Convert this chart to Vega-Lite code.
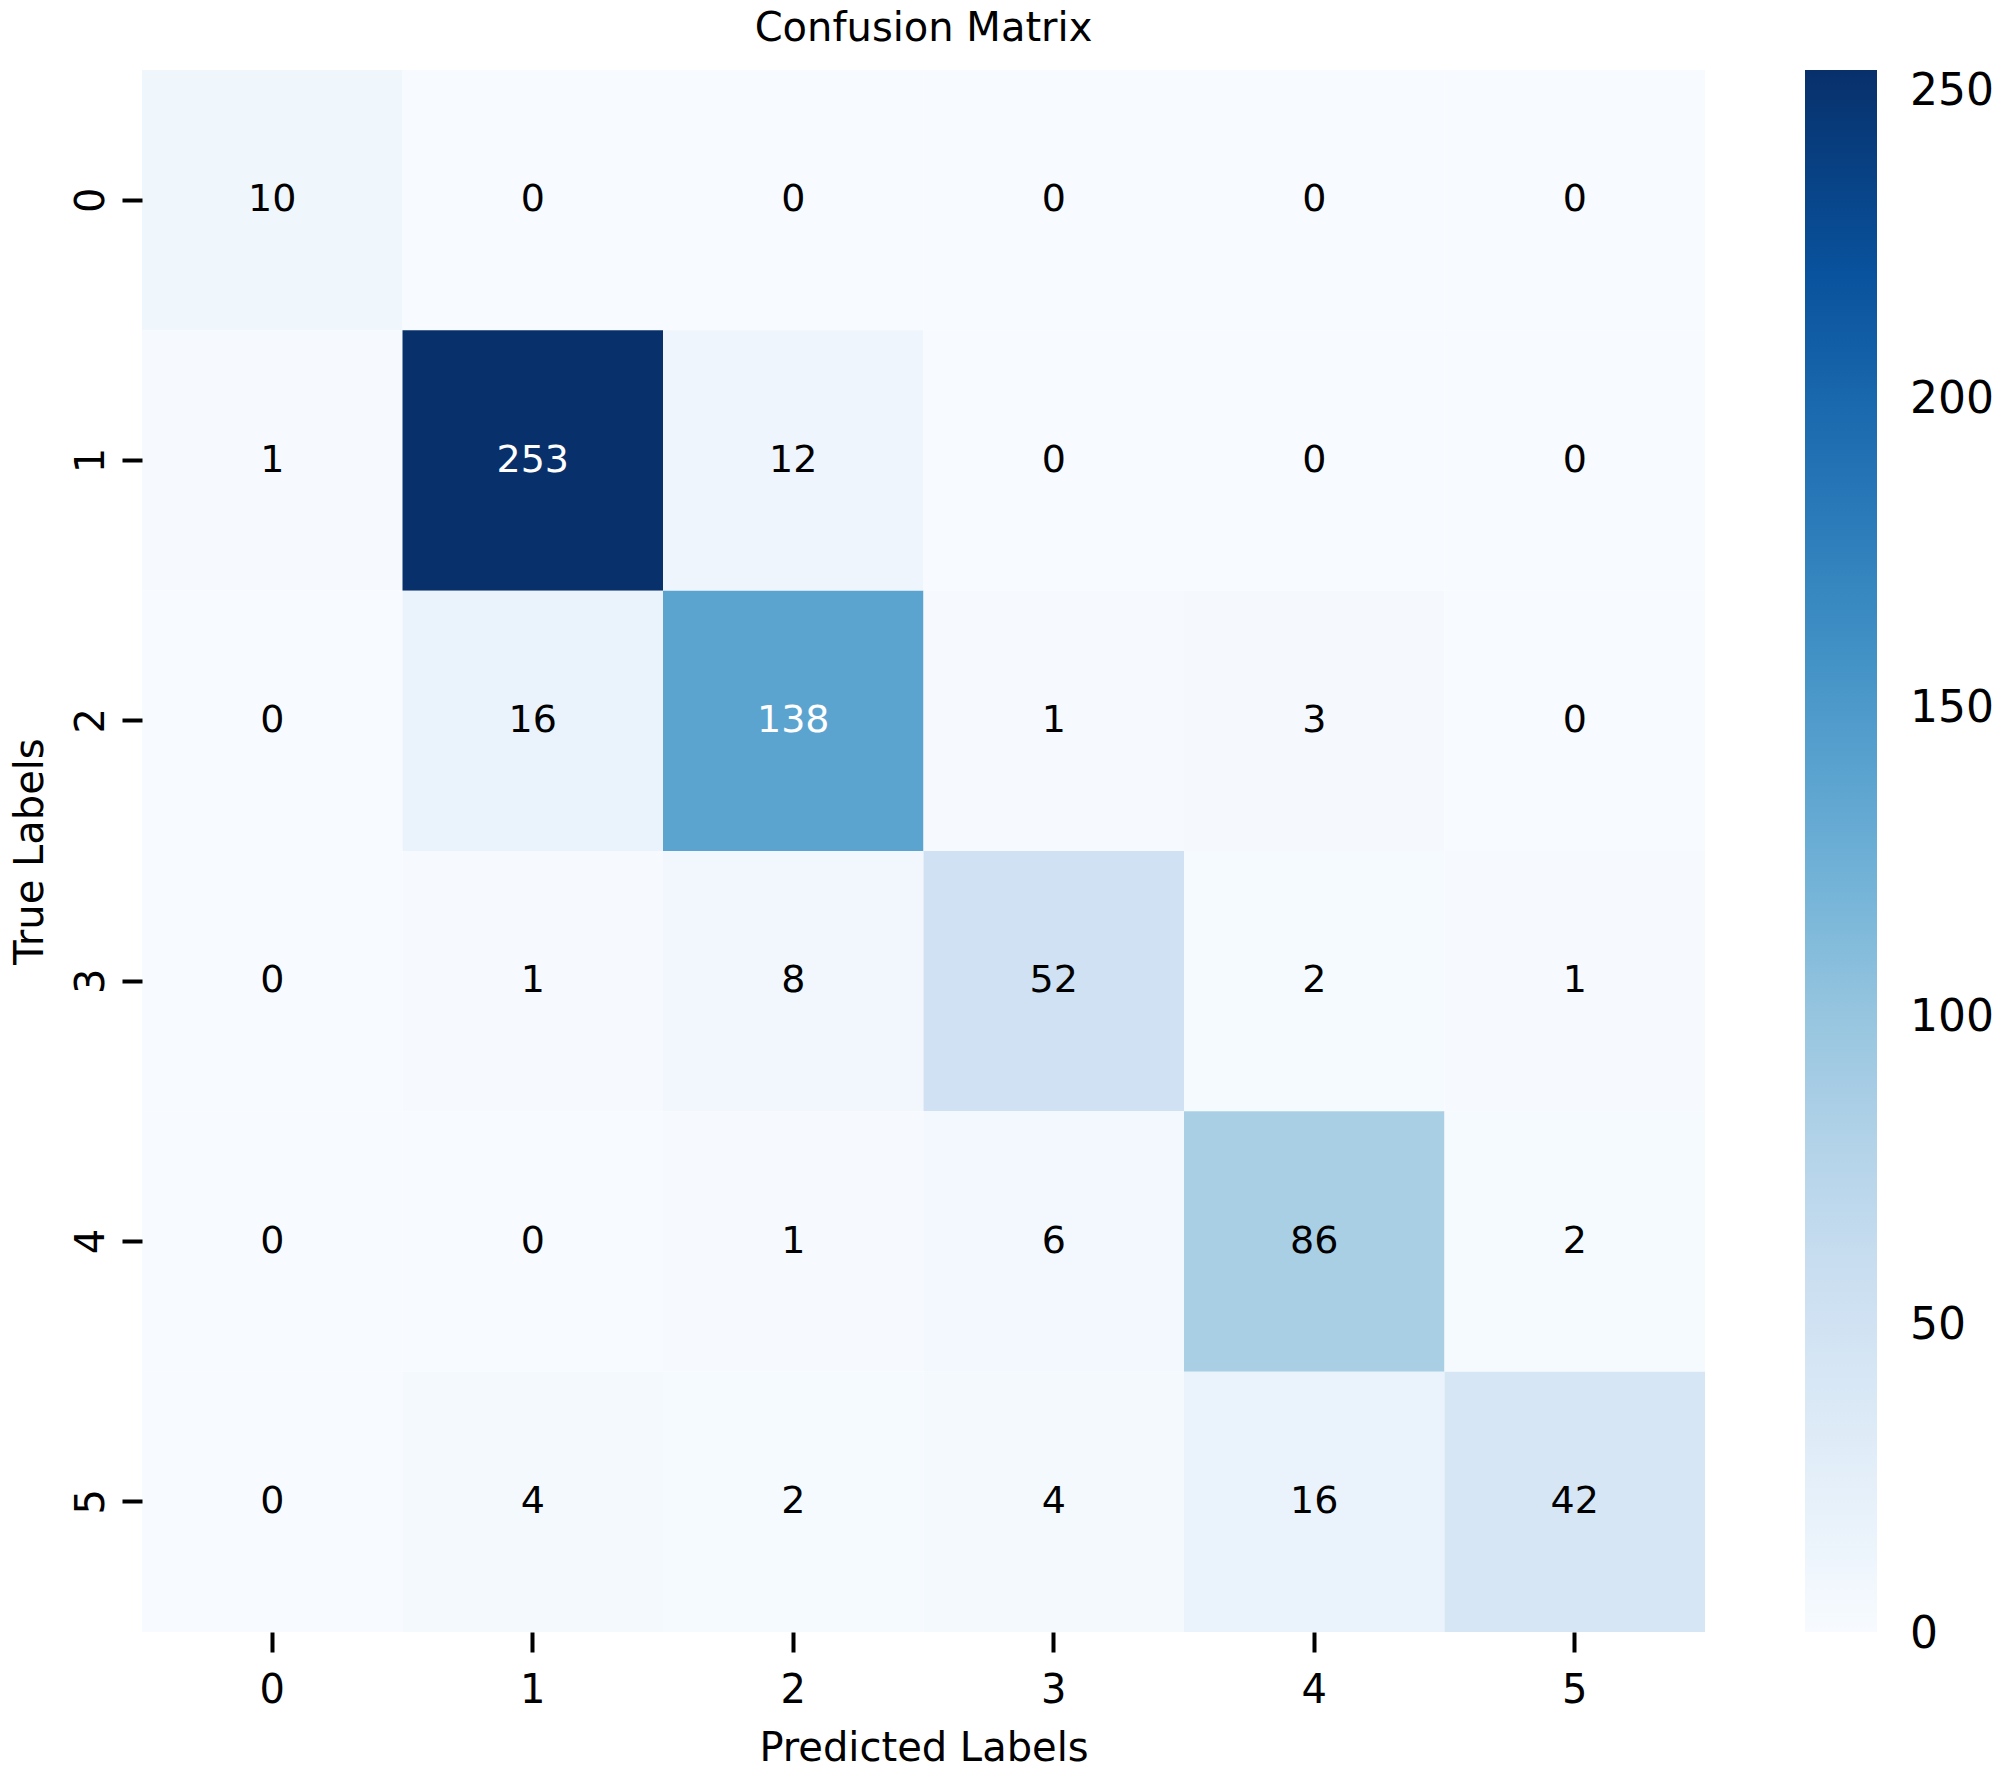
{
  "$schema": "https://vega.github.io/schema/vega-lite/v6.json",
  "width": 1563,
  "height": 1562,
  "autosize": {"type": "none"},
  "padding": {"left": 142, "top": 70, "right": 295, "bottom": 138},
  "background": "white",
  "config": {"view": {"stroke": null}},
  "title": {
    "text": "Confusion Matrix",
    "font": "DejaVu Sans",
    "fontSize": 40,
    "fontWeight": "normal",
    "color": "black",
    "anchor": "middle",
    "baseline": "bottom",
    "offset": -19
  },
  "data": {
    "values": [
      {"true": "0", "pred": "0", "count": 10},
      {"true": "0", "pred": "1", "count": 0},
      {"true": "0", "pred": "2", "count": 0},
      {"true": "0", "pred": "3", "count": 0},
      {"true": "0", "pred": "4", "count": 0},
      {"true": "0", "pred": "5", "count": 0},
      {"true": "1", "pred": "0", "count": 1},
      {"true": "1", "pred": "1", "count": 253},
      {"true": "1", "pred": "2", "count": 12},
      {"true": "1", "pred": "3", "count": 0},
      {"true": "1", "pred": "4", "count": 0},
      {"true": "1", "pred": "5", "count": 0},
      {"true": "2", "pred": "0", "count": 0},
      {"true": "2", "pred": "1", "count": 16},
      {"true": "2", "pred": "2", "count": 138},
      {"true": "2", "pred": "3", "count": 1},
      {"true": "2", "pred": "4", "count": 3},
      {"true": "2", "pred": "5", "count": 0},
      {"true": "3", "pred": "0", "count": 0},
      {"true": "3", "pred": "1", "count": 1},
      {"true": "3", "pred": "2", "count": 8},
      {"true": "3", "pred": "3", "count": 52},
      {"true": "3", "pred": "4", "count": 2},
      {"true": "3", "pred": "5", "count": 1},
      {"true": "4", "pred": "0", "count": 0},
      {"true": "4", "pred": "1", "count": 0},
      {"true": "4", "pred": "2", "count": 1},
      {"true": "4", "pred": "3", "count": 6},
      {"true": "4", "pred": "4", "count": 86},
      {"true": "4", "pred": "5", "count": 2},
      {"true": "5", "pred": "0", "count": 0},
      {"true": "5", "pred": "1", "count": 4},
      {"true": "5", "pred": "2", "count": 2},
      {"true": "5", "pred": "3", "count": 4},
      {"true": "5", "pred": "4", "count": 16},
      {"true": "5", "pred": "5", "count": 42}
    ]
  },
  "encoding": {
    "x": {
      "field": "pred",
      "type": "ordinal",
      "scale": {"padding": 0},
      "axis": {
        "title": "Predicted Labels",
        "labelAngle": 0,
        "labelFont": "DejaVu Sans",
        "labelFontSize": 40,
        "labelColor": "black",
        "labelBaseline": "alphabetic",
        "labelPadding": 50,
        "tickSize": 20,
        "tickWidth": 4,
        "tickColor": "black",
        "domain": false,
        "titleFont": "DejaVu Sans",
        "titleFontSize": 40,
        "titleFontWeight": "normal",
        "titleColor": "black",
        "titleBaseline": "alphabetic",
        "titleY": 128
      }
    },
    "y": {
      "field": "true",
      "type": "ordinal",
      "scale": {"padding": 0},
      "axis": {
        "title": "True Labels",
        "labelAngle": 270,
        "labelAlign": "center",
        "labelBaseline": "alphabetic",
        "labelFont": "DejaVu Sans",
        "labelFontSize": 40,
        "labelColor": "black",
        "labelPadding": 19,
        "tickSize": 20,
        "tickWidth": 4,
        "tickColor": "black",
        "domain": false,
        "titleFont": "DejaVu Sans",
        "titleFontSize": 40,
        "titleFontWeight": "normal",
        "titleColor": "black",
        "titleAngle": 270,
        "titleBaseline": "alphabetic",
        "titleAlign": "center",
        "titleX": -100,
        "titleY": 781
      }
    }
  },
  "layer": [
    {
      "mark": {"type": "rect"},
      "encoding": {
        "color": {
          "field": "count",
          "type": "quantitative",
          "scale": {
            "domain": [0, 253],
            "range": ["#f7fbff", "#deebf7", "#c6dbef", "#9ecae1", "#6baed6", "#4292c6", "#2171b5", "#08519c", "#08306b"],
            "interpolate": "rgb"
          },
          "legend": {
            "title": null,
            "orient": "none",
            "legendX": 1663,
            "legendY": 0,
            "direction": "vertical",
            "gradientLength": 1562,
            "gradientThickness": 72,
            "gradientStrokeWidth": 0,
            "values": [0, 50, 100, 150, 200, 250],
            "labelFont": "DejaVu Sans",
            "labelFontSize": 44,
            "labelColor": "black",
            "labelOffset": 33,
            "labelBaseline": "middle",
            "labelOverlap": false,
            "labelLimit": 300,
            "encode": {
              "labels": {
                "update": {
                  "baseline": {"value": "middle"},
                  "dy": {"value": 3}
                }
              }
            }
          }
        }
      }
    },
    {
      "mark": {"type": "text", "font": "DejaVu Sans", "fontSize": 38, "baseline": "middle", "align": "center"},
      "encoding": {
        "text": {"field": "count", "type": "quantitative"},
        "color": {
          "condition": {"test": "datum.count > 120", "value": "white"},
          "value": "black"
        }
      }
    }
  ]
}
